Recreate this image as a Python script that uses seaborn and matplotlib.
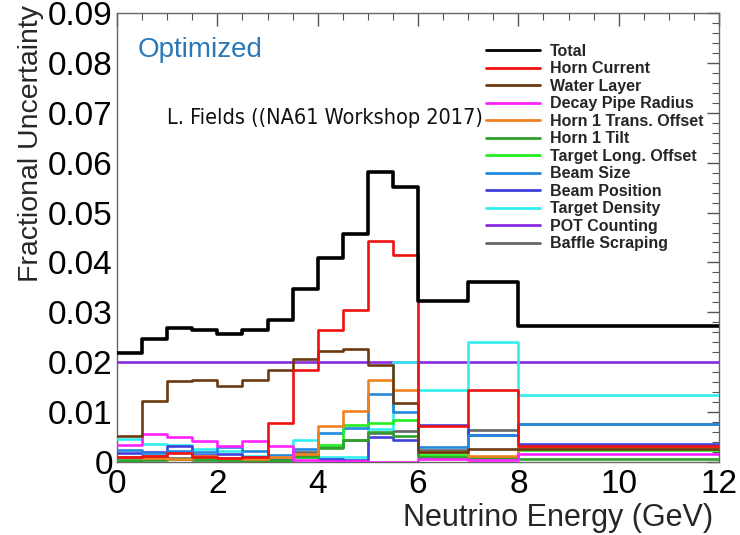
import numpy as np
import pandas as pd
import matplotlib
matplotlib.use("Agg")
import matplotlib.pyplot as plt
from matplotlib.lines import Line2D
from matplotlib.ticker import MultipleLocator, FuncFormatter
import seaborn as sns

# Energy bin edges (GeV)
bin_edges = [0, 0.5, 1.0, 1.5, 2.0, 2.5, 3.0, 3.5, 4.0, 4.5, 5.0, 5.5, 6.0, 7.0, 8.0, 12.0]

# Fractional uncertainty per bin for each systematic
total = [0.0218, 0.0247, 0.0269, 0.0265, 0.0257, 0.0264, 0.0284, 0.0347,
         0.0409, 0.0457, 0.0581, 0.0551, 0.0322, 0.0360, 0.0272]
horn_current = [0.0010, 0.0012, 0.0018, 0.0010, 0.0008, 0.0010, 0.0079, 0.0184,
                0.0264, 0.0304, 0.0442, 0.0415, 0.0072, 0.0145, 0.0032]
water_layer = [0.0053, 0.0123, 0.0163, 0.0164, 0.0152, 0.0165, 0.0184, 0.0207,
               0.0223, 0.0226, 0.0195, 0.0118, 0.0020, 0.0027, 0.0027]
decay_pipe_radius = [0.0034, 0.0057, 0.0051, 0.0043, 0.0032, 0.0042, 0.0032, 0.0004,
                     0.0002, 0.0002, 0.0001, 0.0001, 0.0006, 0.0004, 0.0016]
horn1_trans_offset = [0.0010, 0.0008, 0.0006, 0.0012, 0.0008, 0.0006, 0.0010, 0.0016,
                      0.0073, 0.0103, 0.0165, 0.0144, 0.0020, 0.0012, 0.0030]
horn1_tilt = [0.0004, 0.0004, 0.0006, 0.0004, 0.0004, 0.0003, 0.0004, 0.0012,
              0.0029, 0.0044, 0.0060, 0.0052, 0.0010, 0.0008, 0.0007]
target_long_offset = [0.0002, 0.0006, 0.0006, 0.0008, 0.0004, 0.0004, 0.0003, 0.0010,
                      0.0034, 0.0074, 0.0079, 0.0084, 0.0015, 0.0010, 0.0024]
beam_size = [0.0024, 0.0018, 0.0022, 0.0020, 0.0030, 0.0022, 0.0014, 0.0026,
             0.0058, 0.0068, 0.0137, 0.0100, 0.0031, 0.0054, 0.0077]
beam_position = [0.0018, 0.0020, 0.0032, 0.0014, 0.0016, 0.0010, 0.0004, 0.0010,
                 0.0006, 0.0004, 0.0050, 0.0044, 0.0074, 0.0054, 0.0037]
target_density = [0.0047, 0.0037, 0.0034, 0.0027, 0.0022, 0.0012, 0.0004, 0.0044,
                  0.0011, 0.0010, 0.0067, 0.0201, 0.0144, 0.0241, 0.0134]
pot_counting = [0.0200] * 15
baffle_scraping = [0.0010, 0.0012, 0.0008, 0.0010, 0.0008, 0.0006, 0.0006, 0.0020,
                   0.0030, 0.0044, 0.0058, 0.0062, 0.0024, 0.0064, 0.0077]

series_names = ["Total", "Horn Current", "Water Layer", "Decay Pipe Radius",
                "Horn 1 Trans. Offset", "Horn 1 Tilt", "Target Long. Offset",
                "Beam Size", "Beam Position", "Target Density", "POT Counting",
                "Baffle Scraping"]
series_values = [total, horn_current, water_layer, decay_pipe_radius,
                 horn1_trans_offset, horn1_tilt, target_long_offset, beam_size,
                 beam_position, target_density, pot_counting, baffle_scraping]
series_colors = ["#000000", "#ee1111", "#6b3a10", "#ff22ff", "#f08020", "#2fa02f",
                 "#22ee22", "#2288dd", "#4040dd", "#33eeee", "#8a2be2", "#666666"]

# Long-form table: each step series gets its last value repeated at the final edge
rows = []
for name, vals in zip(series_names, series_values):
    ys = list(vals) + [vals[-1]]
    for x, y in zip(bin_edges, ys):
        rows.append({"energy": x, "frac": y, "source": name})
df = pd.DataFrame(rows)

sns.set_style("white")
plt.rcParams["font.family"] = ["Liberation Sans", "DejaVu Sans"]

fig = plt.figure(figsize=(7.4, 5.35), dpi=100)
ax = fig.add_axes([117 / 740, 1 - 462 / 535, (719 - 117) / 740, (462 - 13) / 535])

palette = dict(zip(series_names, series_colors))
draw_order = series_names[::-1]
for name in draw_order:
    sub = df[df["source"] == name]
    sns.lineplot(data=sub, x="energy", y="frac", color=palette[name],
                 estimator=None, sort=False, drawstyle="steps-post",
                 linewidth=2.6 if name == "Total" else 1.9,
                 ax=ax, legend=False, zorder=4 if name == "Total" else 3)

ax.set_xlim(0, 12)
ax.set_ylim(0, 0.09)
ax.xaxis.set_major_locator(MultipleLocator(2))
ax.xaxis.set_minor_locator(MultipleLocator(0.5))
ax.yaxis.set_major_locator(MultipleLocator(0.01))
ax.yaxis.set_minor_locator(MultipleLocator(0.002))
ax.yaxis.set_major_formatter(FuncFormatter(lambda v, p: "0" if abs(v) < 1e-9 else f"{v:.2f}"))
ax.xaxis.set_major_formatter(FuncFormatter(lambda v, p: f"{v:.0f}"))

ax.tick_params(which="both", direction="in", top=True, right=True,
               colors="#555555", labelcolor="black")
ax.tick_params(which="major", length=9, width=1, labelsize=24)
ax.tick_params(which="minor", length=5, width=0.8)
ax.tick_params(axis="y", which="major", pad=3)
ax.tick_params(axis="x", which="major", pad=5)
for sp in ax.spines.values():
    sp.set_visible(True)
    sp.set_color("#666666")
    sp.set_linewidth(1.0)

ax.set_xlabel("Neutrino Energy (GeV)", fontsize=22, loc="right", labelpad=2)
ax.xaxis.label.set_x(0.99)
ax.set_ylabel("Fractional Uncertainty", fontsize=20.5, loc="top", labelpad=3)
ax.yaxis.label.set_y(1.018)

ax.text(0.42, 0.0826, "Optimized", color="#2a78b8", fontsize=20,
        ha="left", va="center")

handles = [Line2D([0], [0], color=c, linewidth=2.0) for c in series_colors]
leg = ax.legend(handles, series_names, loc="upper left",
                bbox_to_anchor=(486 / 740, 1 - 44 / 535),
                bbox_transform=fig.transFigure, frameon=False,
                prop={"weight": "bold", "size": 11.5},
                handlelength=3.4, handletextpad=0.6, labelspacing=0.155,
                borderpad=0, borderaxespad=0)

ax.text(1.0, 0.0690, "L. Fields ((NA61 Workshop 2017)", fontsize=15.5,
        family="DejaVu Sans", fontstretch="condensed", color="#111111",
        ha="left", va="center",
        zorder=10, bbox=dict(facecolor="white", edgecolor="none", pad=1.5))

fig.savefig("out.png", dpi=100)
